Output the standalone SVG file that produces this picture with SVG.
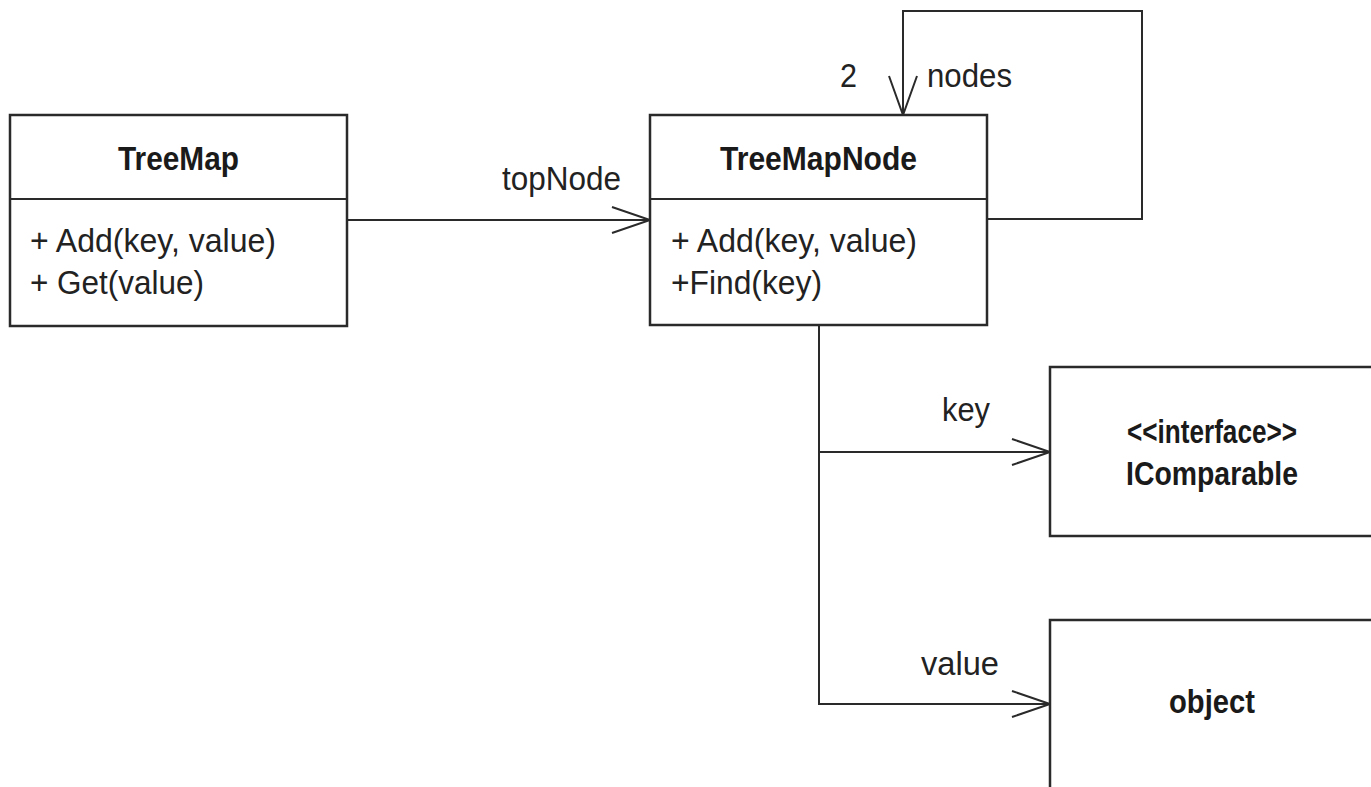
<svg xmlns="http://www.w3.org/2000/svg" width="1371" height="787" viewBox="0 0 1371 787">
<style>
.box{fill:#fff;stroke:#2a2a2a;stroke-width:2.5}
.div{stroke:#2a2a2a;stroke-width:2}
.ln{fill:none;stroke:#2a2a2a;stroke-width:2}
.t{font-family:"Liberation Sans",Arial,sans-serif;font-size:33px;fill:#222}
.b{font-family:"Liberation Sans",Arial,sans-serif;font-size:33px;font-weight:bold;fill:#1a1a1a}
</style>
<rect width="1371" height="787" fill="#fff"/>
<g id="connectors">
<polyline class="ln" points="347,220 650,220"/>
<polyline class="ln" points="612,207 650,220 612,233"/>
<polyline class="ln" points="987,219 1142,219 1142,11 903,11 903,115"/>
<polyline class="ln" points="889,76 903,115 917,76"/>
<polyline class="ln" points="819,325 819,704 1050,704"/>
<polyline class="ln" points="819,452 1050,452"/>
<polyline class="ln" points="1012,439 1050,452 1012,465"/>
<polyline class="ln" points="1012,691 1050,704 1012,717"/>
<text class="t" x="502" y="190" textLength="119" lengthAdjust="spacingAndGlyphs">topNode</text>
<text class="t" x="840" y="87" textLength="17" lengthAdjust="spacingAndGlyphs">2</text>
<text class="t" x="927" y="87" textLength="85" lengthAdjust="spacingAndGlyphs">nodes</text>
<text class="t" x="942" y="421" textLength="48" lengthAdjust="spacingAndGlyphs">key</text>
<text class="t" x="921" y="675" textLength="78" lengthAdjust="spacingAndGlyphs">value</text>
</g>
<g id="TreeMap">
<rect class="box" x="10" y="115" width="337" height="211"/>
<line class="div" x1="10" y1="199" x2="347" y2="199"/>
<text class="b" x="178.5" y="170" text-anchor="middle" textLength="121" lengthAdjust="spacingAndGlyphs">TreeMap</text>
<text class="t" x="30" y="252" textLength="246" lengthAdjust="spacingAndGlyphs">+ Add(key, value)</text>
<text class="t" x="30" y="294" textLength="174" lengthAdjust="spacingAndGlyphs">+ Get(value)</text>
</g>
<g id="TreeMapNode">
<rect class="box" x="650" y="115" width="337" height="210"/>
<line class="div" x1="650" y1="199" x2="987" y2="199"/>
<text class="b" x="818.5" y="170" text-anchor="middle" textLength="197" lengthAdjust="spacingAndGlyphs">TreeMapNode</text>
<text class="t" x="671" y="252" textLength="246" lengthAdjust="spacingAndGlyphs">+ Add(key, value)</text>
<text class="t" x="671" y="294" textLength="151" lengthAdjust="spacingAndGlyphs">+Find(key)</text>
</g>
<g id="IComparable">
<rect class="box" x="1050" y="367" width="330" height="169"/>
<text class="b" x="1212" y="443" text-anchor="middle" textLength="170" lengthAdjust="spacingAndGlyphs">&lt;&lt;interface&gt;&gt;</text>
<text class="b" x="1212" y="485" text-anchor="middle" textLength="172" lengthAdjust="spacingAndGlyphs">IComparable</text>
</g>
<g id="object">
<rect class="box" x="1050" y="620" width="330" height="170"/>
<text class="b" x="1212" y="713" text-anchor="middle" textLength="86" lengthAdjust="spacingAndGlyphs">object</text>
</g>
</svg>
